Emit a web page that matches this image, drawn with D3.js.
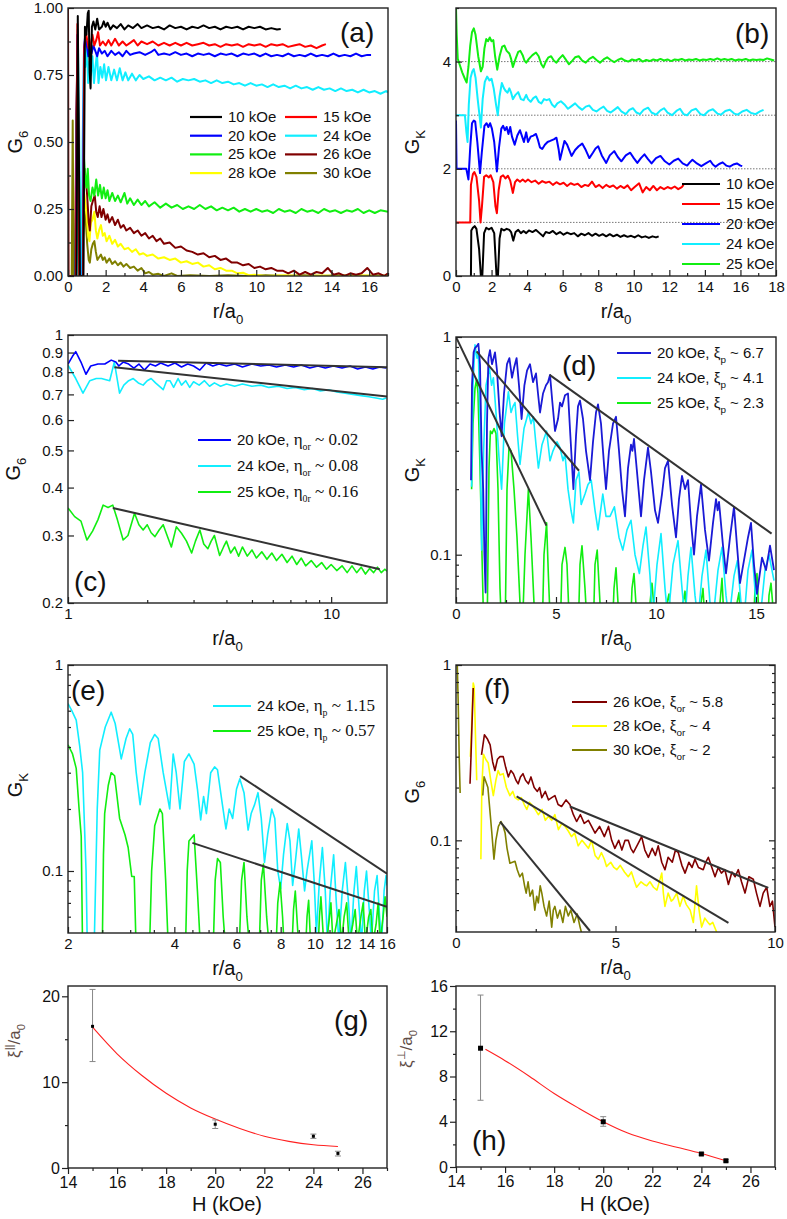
<!DOCTYPE html>
<html><head><meta charset="utf-8">
<script src="https://cdn.jsdelivr.net/npm/d3@7"></script>
<style>body{margin:0;background:#fff}</style>
</head><body>
<svg id="c" width="787" height="1219" xmlns="http://www.w3.org/2000/svg"></svg>
<script>
// ---------------- DATA ----------------
// Panel (a): G6 vs r/a0
const a10 = [[0.45,0],[0.52,0.97],[0.58,0.45],[0.63,0],[0.82,0],[0.9,0.93],[0.98,0.9],[1.05,0.98],[1.1,0.99],[1.15,0.76],[1.2,0.7],[1.27,0.93],[1.35,0.95],[1.45,0.92],[1.55,0.96],[1.65,0.92],[1.8,0.93],[1.9,0.95],[2.0,0.93],[2.1,0.945],[2.25,0.92],[2.4,0.935],[2.6,0.925],[2.8,0.94],[3.0,0.92],[3.2,0.935],[3.45,0.925],[3.7,0.94],[3.9,0.925],[4.2,0.935],[4.5,0.925],[4.8,0.93],[5.1,0.92],[5.4,0.935],[5.7,0.925],[6.0,0.93],[6.3,0.92],[6.6,0.93],[6.9,0.925],[7.2,0.935],[7.5,0.925],[7.8,0.93],[8.1,0.92],[8.4,0.93],[8.7,0.925],[9.0,0.93],[9.3,0.92],[9.6,0.93],[9.9,0.925],[10.2,0.93],[10.5,0.92],[10.8,0.925],[11.1,0.92],[11.3,0.922]];
const a15 = [[0.42,0],[0.5,0.94],[0.56,0.5],[0.6,0],[0.8,0],[0.86,0.85],[0.95,0.91],[1.02,0.88],[1.1,0.85],[1.2,0.86],[1.3,0.9],[1.4,0.86],[1.5,0.88],[1.6,0.91],[1.7,0.86],[1.85,0.875],[2.0,0.86],[2.15,0.88],[2.3,0.86],[2.5,0.885],[2.7,0.86],[2.9,0.875],[3.1,0.86],[3.3,0.87],[3.5,0.88],[3.7,0.86],[3.9,0.875],[4.2,0.865],[4.5,0.875],[4.8,0.86],[5.1,0.87],[5.4,0.86],[5.7,0.87],[6.0,0.86],[6.3,0.87],[6.6,0.86],[6.9,0.865],[7.2,0.87],[7.5,0.86],[7.8,0.865],[8.1,0.855],[8.4,0.865],[8.7,0.86],[9.0,0.865],[9.3,0.855],[9.6,0.865],[9.9,0.86],[10.2,0.865],[10.5,0.855],[10.8,0.865],[11.1,0.86],[11.4,0.865],[11.7,0.855],[12.0,0.86],[12.3,0.865],[12.6,0.855],[12.9,0.86],[13.2,0.85],[13.5,0.86],[13.7,0.865]];
const a20 = [[0.4,0],[0.45,0.5],[0.5,0.9],[0.56,0.4],[0.62,0],[0.78,0],[0.85,0.85],[0.92,0.9],[1.0,0.86],[1.08,0.82],[1.15,0.86],[1.25,0.83],[1.35,0.86],[1.45,0.84],[1.55,0.82],[1.65,0.85],[1.8,0.83],[1.95,0.84],[2.1,0.82],[2.3,0.84],[2.5,0.825],[2.7,0.835],[2.9,0.82],[3.1,0.84],[3.3,0.825],[3.5,0.83],[3.8,0.835],[4.1,0.825],[4.4,0.835],[4.6,0.845],[4.8,0.825],[5.1,0.83],[5.4,0.825],[5.7,0.835],[6.0,0.825],[6.3,0.83],[6.6,0.82],[6.9,0.83],[7.2,0.825],[7.5,0.83],[7.8,0.82],[8.1,0.83],[8.4,0.825],[8.7,0.83],[9.0,0.82],[9.3,0.83],[9.6,0.825],[9.9,0.83],[10.2,0.82],[10.5,0.83],[10.8,0.82],[11.1,0.825],[11.4,0.82],[11.7,0.83],[12.0,0.82],[12.3,0.825],[12.6,0.82],[12.9,0.83],[13.2,0.82],[13.5,0.825],[13.8,0.82],[14.1,0.83],[14.4,0.82],[14.7,0.825],[15.0,0.82],[15.3,0.83],[15.6,0.82],[15.9,0.825],[16.1,0.825]];
const a24 = [[0.45,0],[0.52,0.92],[0.58,0.6],[0.65,0.2],[0.72,0],[0.78,0.5],[0.85,0.85],[0.92,0.78],[1.0,0.86],[1.07,0.72],[1.15,0.8],[1.22,0.75],[1.3,0.82],[1.38,0.72],[1.46,0.78],[1.54,0.83],[1.62,0.72],[1.72,0.78],[1.82,0.74],[1.92,0.79],[2.02,0.73],[2.15,0.78],[2.3,0.73],[2.45,0.77],[2.6,0.73],[2.75,0.775],[2.9,0.73],[3.05,0.76],[3.2,0.73],[3.4,0.755],[3.6,0.73],[3.8,0.75],[4.0,0.735],[4.3,0.745],[4.6,0.73],[4.9,0.74],[5.2,0.73],[5.5,0.74],[5.8,0.725],[6.1,0.735],[6.4,0.73],[6.7,0.735],[7.0,0.725],[7.3,0.73],[7.6,0.72],[7.9,0.73],[8.2,0.72],[8.5,0.725],[8.8,0.715],[9.1,0.72],[9.4,0.71],[9.7,0.72],[10.0,0.71],[10.3,0.715],[10.6,0.705],[10.9,0.715],[11.2,0.705],[11.5,0.71],[11.8,0.7],[12.1,0.71],[12.4,0.7],[12.7,0.705],[13.0,0.695],[13.3,0.705],[13.6,0.695],[13.9,0.7],[14.2,0.69],[14.5,0.7],[14.8,0.69],[15.1,0.695],[15.4,0.685],[15.7,0.695],[16.0,0.685],[16.3,0.69],[16.6,0.68],[16.9,0.69],[17,0.685]];
const a25 = [[0.4,0],[0.47,0.6],[0.52,0.3],[0.58,0],[0.72,0],[0.78,0.3],[0.84,0.45],[0.9,0.38],[0.98,0.33],[1.05,0.4],[1.12,0.3],[1.2,0.28],[1.3,0.33],[1.4,0.3],[1.5,0.36],[1.6,0.3],[1.7,0.34],[1.8,0.29],[1.9,0.33],[2.0,0.29],[2.1,0.32],[2.2,0.28],[2.35,0.31],[2.5,0.28],[2.65,0.3],[2.8,0.275],[3.0,0.31],[3.15,0.27],[3.3,0.29],[3.5,0.265],[3.7,0.285],[3.9,0.265],[4.1,0.28],[4.3,0.26],[4.6,0.275],[4.9,0.255],[5.2,0.27],[5.5,0.255],[5.8,0.265],[6.1,0.25],[6.4,0.26],[6.7,0.25],[7.0,0.265],[7.3,0.25],[7.6,0.26],[7.9,0.245],[8.2,0.255],[8.5,0.245],[8.8,0.255],[9.1,0.24],[9.4,0.25],[9.7,0.24],[10.0,0.25],[10.3,0.24],[10.6,0.245],[10.9,0.235],[11.2,0.25],[11.5,0.24],[11.8,0.245],[12.1,0.235],[12.4,0.25],[12.7,0.24],[13.0,0.245],[13.3,0.235],[13.6,0.25],[13.9,0.24],[14.2,0.245],[14.5,0.235],[14.8,0.245],[15.1,0.24],[15.4,0.25],[15.7,0.235],[16.0,0.245],[16.3,0.235],[16.6,0.245],[17,0.24]];
const a26 = [[0,1],[0.03,0],[0.38,0],[0.44,0.6],[0.48,0.75],[0.54,0.4],[0.6,0],[0.72,0],[0.8,0.25],[0.88,0.4],[0.95,0.36],[1.02,0.3],[1.1,0.2],[1.16,0.17],[1.24,0.26],[1.32,0.28],[1.42,0.3],[1.5,0.24],[1.58,0.22],[1.68,0.26],[1.78,0.22],[1.88,0.25],[2.0,0.21],[2.1,0.23],[2.2,0.2],[2.35,0.22],[2.5,0.19],[2.65,0.21],[2.8,0.18],[2.95,0.19],[3.1,0.17],[3.3,0.18],[3.5,0.16],[3.7,0.17],[3.9,0.15],[4.1,0.16],[4.3,0.14],[4.5,0.15],[4.7,0.13],[4.9,0.14],[5.1,0.12],[5.4,0.125],[5.7,0.105],[6.0,0.11],[6.3,0.095],[6.6,0.09],[6.9,0.08],[7.2,0.085],[7.5,0.07],[7.8,0.075],[8.1,0.06],[8.4,0.065],[8.7,0.05],[9.0,0.05],[9.3,0.04],[9.6,0.045],[9.9,0.03],[10.2,0.035],[10.5,0.025],[10.8,0.03],[11.1,0.02],[11.4,0.02],[11.7,0.01],[12.0,0.02],[12.3,0.005],[12.6,0.015],[12.9,0.005],[13.2,0.015],[13.5,0.01],[13.8,0.03],[14.1,0.005],[14.4,0.01],[14.7,0.0],[15.0,0.01],[15.3,0.005],[15.6,0.01],[15.9,0.03],[16.2,0.005],[16.5,0.01],[16.8,0.0],[17,0.01]];
const a28 = [[0.38,0],[0.45,0.55],[0.5,0.8],[0.56,0.4],[0.62,0],[0.74,0],[0.8,0.2],[0.86,0.31],[0.93,0.27],[1.0,0.22],[1.07,0.15],[1.14,0.13],[1.22,0.2],[1.3,0.21],[1.4,0.24],[1.48,0.17],[1.56,0.14],[1.65,0.17],[1.75,0.19],[1.85,0.15],[1.95,0.16],[2.05,0.13],[2.2,0.15],[2.35,0.12],[2.5,0.135],[2.65,0.11],[2.8,0.12],[3.0,0.1],[3.2,0.105],[3.4,0.09],[3.6,0.1],[3.8,0.08],[4.0,0.085],[4.2,0.075],[4.5,0.08],[4.8,0.065],[5.1,0.07],[5.4,0.06],[5.7,0.065],[6.0,0.05],[6.3,0.055],[6.6,0.045],[6.9,0.05],[7.2,0.035],[7.5,0.04],[7.8,0.025],[8.1,0.03],[8.4,0.02],[8.7,0.02],[9.0,0.01],[9.3,0.012],[9.6,0.003],[9.9,0.005],[10.5,0],[11.5,0.003],[12.5,0],[13.5,0.002],[14.5,0],[15.5,0.003],[16.5,0],[17,0.002]];
const a30 = [[0.2,0],[0.25,0.58],[0.3,0],[0.42,0],[0.47,0.5],[0.52,0.2],[0.58,0],[0.74,0],[0.8,0.15],[0.88,0.24],[0.95,0.2],[1.02,0.12],[1.1,0.06],[1.16,0.05],[1.24,0.1],[1.32,0.12],[1.4,0.13],[1.48,0.09],[1.56,0.06],[1.65,0.07],[1.75,0.08],[1.85,0.06],[1.95,0.07],[2.05,0.05],[2.2,0.065],[2.35,0.045],[2.5,0.055],[2.65,0.04],[2.8,0.05],[2.95,0.035],[3.1,0.045],[3.3,0.03],[3.5,0.035],[3.7,0.02],[3.9,0.03],[4.1,0.01],[4.3,0.015],[4.5,0.005],[4.8,0.008],[5.1,0],[5.5,0.01],[5.8,0],[6.5,0.003],[7.5,0],[8.5,0.003],[9.5,0],[10.5,0.003],[11.5,0],[12.5,0.003],[13.5,0],[14.5,0.003],[15.5,0],[16.5,0.002],[17,0]];

// Panel (b): G_K (raw values, vertically shifted by bOffsets)
const bOffsets = [0, 1, 2, 3, 4];
const b10 = [[0.84,0],[0.86,0.85],[0.95,0.9],[1.05,0.93],[1.15,0.88],[1.3,0.5],[1.4,0],[1.48,0],[1.58,0.8],[1.7,0.9],[1.85,0.87],[2.0,0.9],[2.15,0.8],[2.28,0],[2.36,0],[2.45,0.7],[2.55,0.88],[2.7,0.85],[2.85,0.88],[3.0,0.86],[3.1,0.82],[3.22,0.66],[3.35,0.82],[3.5,0.86],[3.65,0.8],[3.8,0.84],[3.95,0.8],[4.1,0.85],[4.3,0.82],[4.5,0.86],[4.7,0.8],[4.9,0.74],[5.05,0.82],[5.25,0.8],[5.45,0.84],[5.65,0.78],[5.85,0.82],[6.05,0.77],[6.25,0.81],[6.45,0.78],[6.65,0.8],[6.85,0.74],[7.05,0.79],[7.25,0.76],[7.45,0.8],[7.65,0.75],[7.85,0.79],[8.05,0.75],[8.25,0.78],[8.45,0.74],[8.65,0.78],[8.85,0.74],[9.05,0.77],[9.25,0.73],[9.45,0.76],[9.65,0.73],[9.85,0.75],[10.05,0.72],[10.25,0.76],[10.45,0.72],[10.65,0.74],[10.85,0.71],[11.05,0.74],[11.25,0.72],[11.4,0.74]];
const b15 = [[0,0],[0.8,0],[0.84,0.7],[0.95,0.9],[1.03,0.94],[1.15,0.85],[1.3,0.4],[1.38,0],[1.46,0.3],[1.58,0.85],[1.7,0.88],[1.85,0.84],[1.95,0.88],[2.1,0.75],[2.22,0.3],[2.3,0.17],[2.4,0.6],[2.52,0.85],[2.65,0.88],[2.78,0.82],[2.92,0.87],[3.05,0.78],[3.2,0.55],[3.32,0.75],[3.45,0.8],[3.6,0.76],[3.75,0.8],[3.9,0.76],[4.05,0.8],[4.25,0.75],[4.45,0.78],[4.65,0.72],[4.85,0.77],[5.05,0.74],[5.25,0.76],[5.45,0.7],[5.65,0.75],[5.85,0.71],[6.05,0.74],[6.25,0.68],[6.45,0.73],[6.65,0.7],[6.85,0.72],[7.05,0.66],[7.25,0.7],[7.45,0.68],[7.65,0.76],[7.85,0.66],[8.05,0.7],[8.25,0.64],[8.45,0.7],[8.65,0.66],[8.85,0.69],[9.05,0.63],[9.25,0.68],[9.45,0.64],[9.65,0.69],[9.85,0.6],[10.05,0.66],[10.3,0.73],[10.5,0.56],[10.7,0.66],[10.9,0.6],[11.1,0.68],[11.3,0.6],[11.5,0.66],[11.7,0.62],[11.9,0.66],[12.1,0.63],[12.3,0.67],[12.5,0.62],[12.7,0.66],[12.8,0.7]];
const b20 = [[0,0.9],[0.03,0],[0.58,0],[0.7,-0.2],[0.8,0.4],[0.9,0.85],[1.0,0.9],[1.08,0.88],[1.2,0.5],[1.35,-0.08],[1.45,0.3],[1.6,0.8],[1.72,0.85],[1.82,0.78],[1.92,0.85],[2.02,0.75],[2.15,0.5],[2.3,-0.05],[2.42,0.4],[2.55,0.75],[2.65,0.8],[2.75,0.72],[2.85,0.78],[2.95,0.65],[3.05,0.78],[3.15,0.6],[3.3,0.45],[3.45,0.62],[3.6,0.72],[3.72,0.6],[3.82,0.5],[3.95,0.68],[4.05,0.5],[4.2,0.6],[4.35,0.62],[4.5,0.65],[4.6,0.55],[4.72,0.4],[4.85,0.37],[5.0,0.45],[5.15,0.5],[5.3,0.52],[5.5,0.55],[5.65,0.58],[5.78,0.35],[5.85,0.17],[5.98,0.35],[6.1,0.52],[6.25,0.45],[6.5,0.24],[6.7,0.35],[6.9,0.42],[7.1,0.47],[7.3,0.35],[7.5,0.2],[7.7,0.3],[7.85,0.38],[8.0,0.42],[8.2,0.25],[8.45,0.11],[8.65,0.25],[8.9,0.33],[9.1,0.22],[9.3,0.14],[9.55,0.25],[9.8,0.3],[10.0,0.2],[10.2,0.11],[10.4,0.2],[10.6,0.27],[10.8,0.18],[11.0,0.1],[11.25,0.2],[11.5,0.24],[11.75,0.14],[12.0,0.08],[12.25,0.15],[12.5,0.19],[12.75,0.1],[13.0,0.06],[13.15,0.12],[13.3,0.17],[13.55,0.1],[13.8,0.05],[14.05,0.1],[14.3,0.15],[14.45,0.08],[14.6,0.04],[14.8,0.09],[15.0,0.12],[15.2,0.06],[15.4,0.04],[15.6,0.08],[15.8,0.1],[16.0,0.06],[16.1,0.05]];
const b24 = [[0,0],[0.5,0],[0.58,-0.3],[0.65,-0.5],[0.72,0.2],[0.82,0.7],[0.92,0.82],[1.0,0.86],[1.1,0.7],[1.22,0.3],[1.32,0],[1.4,-0.23],[1.5,0.3],[1.62,0.62],[1.75,0.72],[1.88,0.65],[2.0,0.68],[2.12,0.5],[2.25,0.2],[2.35,0.0],[2.45,0.35],[2.58,0.6],[2.7,0.5],[2.8,0.45],[2.9,0.42],[3.0,0.5],[3.1,0.42],[3.2,0.3],[3.35,0.38],[3.5,0.43],[3.65,0.3],[3.8,0.28],[3.95,0.38],[4.05,0.3],[4.2,0.25],[4.35,0.32],[4.5,0.35],[4.65,0.25],[4.8,0.22],[4.95,0.3],[5.1,0.28],[5.25,0.3],[5.4,0.2],[5.55,0.15],[5.7,0.22],[5.9,0.26],[6.1,0.2],[6.3,0.12],[6.5,0.17],[6.7,0.22],[6.9,0.15],[7.1,0.1],[7.3,0.16],[7.5,0.18],[7.7,0.1],[7.9,0.07],[8.1,0.12],[8.3,0.16],[8.5,0.08],[8.7,0.05],[8.9,0.1],[9.1,0.15],[9.3,0.07],[9.55,0.02],[9.75,0.1],[9.95,0.13],[10.15,0.05],[10.35,0.02],[10.55,0.1],[10.8,0.14],[11.0,0.05],[11.25,0.01],[11.5,0.09],[11.7,0.13],[11.9,0.05],[12.15,0.0],[12.4,0.08],[12.6,0.12],[12.8,0.02],[13.0,0.0],[13.25,0.09],[13.5,0.12],[13.75,0.02],[13.95,0.0],[14.2,0.08],[14.45,0.11],[14.7,0.03],[14.9,0.01],[15.15,0.08],[15.4,0.1],[15.65,0.03],[15.85,0.01],[16.1,0.07],[16.35,0.1],[16.6,0.04],[16.85,0.02],[17.1,0.07],[17.3,0.1]];
const b25 = [[0,1.0],[0.04,0.5],[0.1,0.05],[0.2,-0.05],[0.35,-0.2],[0.5,-0.32],[0.6,-0.39],[0.7,-0.1],[0.8,0.3],[0.9,0.55],[1.0,0.62],[1.1,0.5],[1.25,0.1],[1.4,-0.18],[1.5,-0.1],[1.6,0.25],[1.7,0.42],[1.8,0.38],[1.9,0.45],[2.0,0.38],[2.1,0.4],[2.2,0.1],[2.32,-0.15],[2.45,0.1],[2.6,0.28],[2.72,0.3],[2.85,0.2],[3.0,0.15],[3.1,0.05],[3.2,-0.1],[3.35,0.05],[3.5,0.18],[3.62,0.2],[3.75,0.12],[3.85,0.02],[3.95,-0.02],[4.1,0.05],[4.3,0.12],[4.5,0.17],[4.65,0.1],[4.8,-0.05],[4.92,-0.11],[5.05,0.0],[5.2,0.08],[5.35,0.1],[5.5,0.02],[5.65,-0.02],[5.8,0.05],[6.0,0.12],[6.15,0.05],[6.35,-0.05],[6.5,0.0],[6.7,0.08],[6.9,0.1],[7.1,0.02],[7.3,-0.02],[7.5,0.05],[7.7,0.09],[7.9,0.03],[8.1,-0.02],[8.3,0.04],[8.5,0.08],[8.7,0.03],[8.9,-0.01],[9.1,0.03],[9.3,0.06],[9.5,0.02],[9.7,0.0],[9.9,0.04],[10.1,0.02],[10.3,0.05],[10.5,0.0],[10.7,0.03],[10.9,0.01],[11.1,0.04],[11.3,0.02],[11.5,0.05],[11.7,0.02],[11.9,0.04],[12.1,0.01],[12.3,0.04],[12.5,0.03],[12.7,0.05],[12.9,0.02],[13.1,0.04],[13.3,0.03],[13.5,0.05],[13.7,0.02],[13.9,0.04],[14.1,0.03],[14.3,0.05],[14.5,0.03],[14.7,0.06],[14.9,0.03],[15.1,0.05],[15.3,0.03],[15.5,0.05],[15.7,0.02],[15.9,0.04],[16.1,0.03],[16.3,0.05],[16.5,0.02],[16.7,0.04],[16.9,0.03],[17.1,0.04],[17.3,0.03],[17.5,0.06],[17.7,0.04],[17.9,0.02]];

// Panel (c): G6 log-log
const c20 = [[1,0.84],[1.04,0.88],[1.07,0.905],[1.12,0.85],[1.17,0.79],[1.22,0.83],[1.3,0.84],[1.38,0.84],[1.46,0.86],[1.52,0.85],[1.56,0.83],[1.62,0.85],[1.7,0.84],[1.78,0.82],[1.86,0.84],[1.95,0.81],[2.05,0.84],[2.15,0.83],[2.25,0.845],[2.4,0.83],[2.55,0.845],[2.7,0.825],[2.85,0.84],[3.0,0.83],[3.17,0.81],[3.35,0.845],[3.55,0.83],[3.75,0.84],[4.0,0.83],[4.3,0.84],[4.6,0.825],[5.0,0.84],[5.4,0.83],[5.8,0.835],[6.2,0.825],[6.7,0.835],[7.2,0.825],[7.7,0.835],[8.3,0.82],[8.9,0.83],[9.5,0.82],[10.2,0.83],[11,0.82],[11.8,0.83],[12.6,0.815],[13.5,0.825],[14.4,0.815],[15.3,0.825],[16.2,0.82]];
const c24 = [[1,0.835],[1.07,0.77],[1.14,0.705],[1.21,0.76],[1.28,0.77],[1.34,0.77],[1.44,0.76],[1.5,0.85],[1.57,0.705],[1.63,0.74],[1.7,0.76],[1.77,0.77],[1.85,0.75],[1.93,0.74],[2.0,0.76],[2.07,0.77],[2.15,0.75],[2.25,0.73],[2.3,0.72],[2.37,0.76],[2.44,0.76],[2.52,0.73],[2.62,0.77],[2.7,0.74],[2.8,0.76],[2.9,0.73],[3.0,0.755],[3.15,0.74],[3.3,0.76],[3.45,0.735],[3.6,0.75],[3.8,0.735],[4.0,0.745],[4.3,0.735],[4.6,0.745],[5.0,0.735],[5.4,0.74],[5.8,0.73],[6.3,0.735],[6.8,0.725],[7.3,0.73],[7.9,0.72],[8.5,0.725],[9.1,0.715],[9.8,0.72],[10.5,0.71],[11.3,0.705],[12.1,0.7],[13,0.695],[13.9,0.69],[14.8,0.685],[15.7,0.68],[16.2,0.685]];
const c25 = [[1,0.354],[1.06,0.336],[1.12,0.327],[1.18,0.292],[1.24,0.308],[1.3,0.33],[1.36,0.36],[1.42,0.355],[1.48,0.36],[1.54,0.33],[1.62,0.292],[1.69,0.3],[1.79,0.343],[1.86,0.32],[1.93,0.31],[2.0,0.32],[2.07,0.305],[2.14,0.298],[2.22,0.31],[2.3,0.32],[2.38,0.3],[2.47,0.28],[2.58,0.316],[2.7,0.304],[2.82,0.29],[2.95,0.27],[3.05,0.29],[3.17,0.31],[3.28,0.285],[3.4,0.277],[3.5,0.29],[3.6,0.3],[3.77,0.266],[3.9,0.28],[4.0,0.29],[4.15,0.27],[4.3,0.28],[4.45,0.265],[4.6,0.28],[4.8,0.265],[5.0,0.275],[5.2,0.262],[5.45,0.272],[5.7,0.26],[5.95,0.27],[6.2,0.258],[6.5,0.268],[6.8,0.255],[7.1,0.265],[7.4,0.252],[7.7,0.262],[8.0,0.25],[8.4,0.258],[8.8,0.248],[9.2,0.255],[9.6,0.245],[10,0.252],[10.5,0.243],[11,0.25],[11.5,0.24],[12,0.25],[12.5,0.24],[13,0.248],[13.5,0.238],[14,0.246],[14.5,0.24],[15,0.248],[15.5,0.24],[16,0.245],[16.3,0.242]];
const cFits = [[[1.55,0.857],[16.3,0.824]],[[1.5,0.824],[16.3,0.691]],[[1.48,0.354],[15.3,0.245]]];

// Panel (d): G_K semi-log
const d20 = [[0.75,0.22],[0.8,0.6],[0.88,0.85],[0.95,0.89],[1.05,0.91],[1.12,0.93],[1.2,0.75],[1.28,0.3],[1.36,0.2],[1.42,0.1],[1.48,0.067],[1.55,0.4],[1.62,0.8],[1.7,0.87],[1.8,0.75],[1.88,0.8],[1.95,0.85],[2.05,0.7],[2.18,0.45],[2.28,0.35],[2.4,0.55],[2.55,0.75],[2.67,0.8],[2.8,0.65],[2.9,0.72],[3.03,0.8],[3.15,0.6],[3.28,0.42],[3.42,0.6],[3.55,0.7],[3.7,0.75],[3.85,0.62],[4.0,0.68],[4.1,0.55],[4.2,0.45],[4.35,0.55],[4.5,0.6],[4.6,0.62],[4.7,0.67],[4.82,0.5],[4.95,0.37],[5.1,0.42],[5.2,0.5],[5.3,0.48],[5.45,0.54],[5.6,0.55],[5.72,0.35],[5.87,0.2],[6.0,0.35],[6.1,0.48],[6.2,0.51],[6.35,0.42],[6.5,0.3],[6.7,0.22],[6.85,0.33],[7.0,0.45],[7.1,0.49],[7.25,0.4],[7.4,0.26],[7.5,0.2],[7.65,0.3],[7.85,0.4],[8.0,0.43],[8.15,0.3],[8.3,0.2],[8.45,0.15],[8.6,0.25],[8.75,0.32],[8.82,0.3],[8.9,0.34],[9.05,0.24],[9.25,0.15],[9.4,0.22],[9.6,0.31],[9.75,0.24],[9.95,0.16],[10.1,0.14],[10.3,0.19],[10.45,0.25],[10.6,0.27],[10.8,0.17],[11.0,0.12],[11.15,0.18],[11.3,0.23],[11.45,0.2],[11.6,0.22],[11.75,0.14],[11.9,0.1],[12.05,0.15],[12.25,0.21],[12.45,0.13],[12.65,0.094],[12.85,0.14],[13.0,0.18],[13.08,0.16],[13.15,0.175],[13.35,0.11],[13.5,0.082],[13.7,0.12],[13.9,0.166],[14.05,0.11],[14.2,0.074],[14.45,0.1],[14.6,0.12],[14.75,0.14],[14.9,0.09],[15.05,0.066],[15.3,0.097],[15.5,0.085],[15.7,0.11],[15.9,0.085]];
const d24 = [[0.78,0.205],[0.85,0.6],[0.95,0.92],[1.05,0.8],[1.12,0.84],[1.2,0.4],[1.28,0.105],[1.38,0.3],[1.5,0.6],[1.67,0.72],[1.78,0.6],[1.87,0.65],[2.0,0.45],[2.15,0.28],[2.28,0.2],[2.42,0.4],[2.62,0.56],[2.75,0.45],[2.85,0.48],[2.95,0.5],[3.08,0.35],[3.2,0.26],[3.4,0.38],[3.62,0.45],[3.75,0.4],[3.87,0.43],[4.0,0.32],[4.12,0.25],[4.3,0.32],[4.53,0.37],[4.7,0.27],[4.85,0.3],[5.05,0.33],[5.2,0.31],[5.35,0.27],[5.45,0.29],[5.6,0.2],[5.75,0.16],[5.87,0.14],[6.0,0.22],[6.15,0.24],[6.26,0.17],[6.45,0.19],[6.6,0.21],[6.76,0.22],[6.95,0.16],[7.1,0.13],[7.34,0.19],[7.5,0.15],[7.7,0.15],[7.92,0.166],[8.15,0.12],[8.34,0.105],[8.55,0.13],[8.75,0.144],[8.95,0.1],[9.17,0.082],[9.35,0.11],[9.5,0.134],[9.7,0.08],[9.83,0.05],[10.05,0.09],[10.25,0.125],[10.45,0.07],[10.6,0.05],[10.85,0.09],[11.1,0.116],[11.3,0.07],[11.45,0.05],[11.6,0.08],[11.75,0.108],[11.95,0.065],[12.1,0.05],[12.3,0.08],[12.5,0.105],[12.7,0.06],[12.85,0.05],[13.1,0.085],[13.3,0.108],[13.5,0.065],[13.65,0.05],[13.9,0.08],[14.07,0.094],[14.25,0.06],[14.4,0.05],[14.6,0.085],[14.8,0.105],[15.0,0.06],[15.2,0.05],[15.45,0.085],[15.65,0.1],[15.9,0.076]];
const d25 = [[0.78,0.2],[0.85,0.4],[0.95,0.58],[1.03,0.64],[1.1,0.55],[1.2,0.25],[1.3,0.1],[1.4,0.04],[1.55,0.04],[1.65,0.25],[1.72,0.37],[1.8,0.36],[1.9,0.38],[2.0,0.36],[2.1,0.2],[2.2,0.07],[2.3,0.04],[2.45,0.04],[2.55,0.2],[2.65,0.31],[2.75,0.3],[2.9,0.2],[3.05,0.12],[3.2,0.06],[3.3,0.04],[3.45,0.1],[3.62,0.2],[3.75,0.12],[3.9,0.06],[4.0,0.04],[4.3,0.04],[4.4,0.1],[4.53,0.14],[4.62,0.08],[4.75,0.04],[5.2,0.04],[5.3,0.09],[5.45,0.108],[5.55,0.09],[5.7,0.04],[6.1,0.04],[6.2,0.09],[6.3,0.11],[6.45,0.07],[6.6,0.04],[6.85,0.04],[6.95,0.09],[7.06,0.105],[7.2,0.06],[7.35,0.04],[7.8,0.04],[7.9,0.07],[8.0,0.087],[8.15,0.05],[8.3,0.04],[8.7,0.04],[8.8,0.07],[8.9,0.082],[9.05,0.05],[9.2,0.04],[9.6,0.04],[9.7,0.06],[9.8,0.074],[9.95,0.05],[10.1,0.04],[10.45,0.04],[10.55,0.06],[10.65,0.066],[10.8,0.04],[11.25,0.04],[11.35,0.06],[11.45,0.068],[11.6,0.04],[12.15,0.04],[12.25,0.06],[12.35,0.07],[12.5,0.04],[13.1,0.04],[13.2,0.06],[13.3,0.078],[13.45,0.04],[13.95,0.04],[14.05,0.06],[14.15,0.067],[14.3,0.04],[14.85,0.04],[14.95,0.07],[15.05,0.082],[15.2,0.04],[15.55,0.04],[15.65,0.065],[15.75,0.074],[15.9,0.05]];
const dFits = [[[0,1],[4.52,0.136]],[[1.03,0.859],[6.15,0.243]],[[4.68,0.67],[15.78,0.125]]];

// Panel (e): G_K log-log
const e24 = [[2,0.65],[2.05,0.6],[2.11,0.54],[2.16,0.4],[2.2,0.3],[2.25,0.1],[2.27,0.04],[2.37,0.04],[2.42,0.2],[2.46,0.386],[2.55,0.5],[2.65,0.59],[2.72,0.52],[2.83,0.35],[2.92,0.44],[2.99,0.49],[3.05,0.46],[3.12,0.3],[3.2,0.21],[3.3,0.3],[3.42,0.42],[3.52,0.46],[3.6,0.44],[3.72,0.3],[3.88,0.2],[3.97,0.37],[4.05,0.3],[4.15,0.2],[4.27,0.34],[4.4,0.37],[4.55,0.33],[4.65,0.25],[4.75,0.177],[4.84,0.23],[4.93,0.19],[5.07,0.3],[5.2,0.32],[5.3,0.31],[5.45,0.22],[5.6,0.16],[5.72,0.2],[5.85,0.18],[6.0,0.25],[6.13,0.28],[6.3,0.24],[6.47,0.158],[6.6,0.19],[6.75,0.21],[6.9,0.24],[7.05,0.18],[7.2,0.11],[7.35,0.15],[7.55,0.2],[7.7,0.18],[7.85,0.1],[8.0,0.082],[8.15,0.12],[8.35,0.17],[8.5,0.14],[8.65,0.085],[8.8,0.11],[9.0,0.16],[9.15,0.12],[9.35,0.08],[9.5,0.1],[9.8,0.14],[9.95,0.09],[10.1,0.05],[10.3,0.09],[10.5,0.13],[10.7,0.08],[10.85,0.045],[11.05,0.08],[11.3,0.12],[11.5,0.07],[11.7,0.045],[11.95,0.08],[12.2,0.11],[12.45,0.07],[12.65,0.045],[12.9,0.08],[13.1,0.105],[13.35,0.065],[13.55,0.045],[13.8,0.08],[14.0,0.1],[14.25,0.065],[14.45,0.045],[14.75,0.08],[15.0,0.095],[15.25,0.06],[15.45,0.045],[15.7,0.08],[15.9,0.095],[16,0.085]];
const e25 = [[2,0.41],[2.06,0.37],[2.11,0.315],[2.15,0.2],[2.18,0.147],[2.2,0.04],[2.5,0.04],[2.52,0.12],[2.54,0.19],[2.6,0.26],[2.65,0.3],[2.71,0.29],[2.8,0.18],[2.9,0.15],[2.96,0.13],[3.03,0.094],[3.08,0.094],[3.12,0.04],[3.4,0.04],[3.45,0.1],[3.52,0.166],[3.64,0.2],[3.7,0.19],[3.78,0.09],[3.85,0.04],[4.3,0.04],[4.35,0.1],[4.4,0.14],[4.55,0.15],[4.65,0.08],[4.75,0.04],[5.15,0.04],[5.22,0.09],[5.3,0.115],[5.4,0.11],[5.5,0.06],[5.6,0.04],[6.1,0.04],[6.2,0.09],[6.3,0.11],[6.42,0.06],[6.55,0.04],[6.95,0.04],[7.05,0.09],[7.15,0.108],[7.3,0.06],[7.45,0.04],[7.75,0.04],[7.85,0.07],[7.97,0.088],[8.1,0.06],[8.2,0.04],[8.6,0.04],[8.7,0.065],[8.8,0.08],[8.95,0.05],[9.05,0.04],[9.4,0.04],[9.5,0.06],[9.6,0.072],[9.75,0.04],[10.2,0.04],[10.3,0.06],[10.4,0.075],[10.55,0.05],[10.7,0.04],[11.0,0.06],[11.1,0.07],[11.25,0.045],[11.5,0.055],[11.7,0.065],[11.9,0.045],[12.1,0.06],[12.3,0.07],[12.5,0.045],[12.8,0.055],[13,0.065],[13.2,0.045],[13.5,0.06],[13.7,0.07],[13.9,0.045],[14.2,0.06],[14.4,0.065],[14.6,0.045],[14.9,0.055],[15.1,0.07],[15.3,0.045],[15.6,0.06],[15.8,0.075],[16,0.06]];
const eFits = [[[6.14,0.289],[16,0.097]],[[4.5,0.137],[16,0.067]]];

// Panel (f): G6 semi-log (null = gap)
const f26 = [[0.44,0.21],[0.47,0.3],[0.5,0.45],[0.54,0.74],[0.6,null],[0.8,0.307],[0.89,0.4],[0.98,0.38],[1.07,0.35],[1.15,0.28],[1.22,0.25],[1.3,0.29],[1.38,0.3],[1.48,0.3],[1.56,0.26],[1.64,0.23],[1.72,0.25],[1.8,0.24],[1.88,0.22],[1.95,0.21],[2.02,0.23],[2.1,0.24],[2.18,0.22],[2.27,0.21],[2.35,0.23],[2.45,0.2],[2.55,0.19],[2.62,0.2],[2.69,0.175],[2.8,0.19],[2.9,0.17],[3.0,0.175],[3.1,0.18],[3.2,0.16],[3.31,0.156],[3.45,0.17],[3.57,0.16],[3.68,0.14],[3.78,0.128],[3.9,0.14],[4.02,0.125],[4.15,0.13],[4.25,0.12],[4.36,0.11],[4.5,0.12],[4.65,0.105],[4.78,0.12],[4.88,0.1],[4.98,0.09],[5.1,0.1],[5.2,0.088],[5.3,0.1],[5.4,0.1],[5.48,0.09],[5.56,0.085],[5.7,0.095],[5.82,0.105],[5.92,0.088],[6.03,0.08],[6.15,0.09],[6.25,0.082],[6.34,0.093],[6.45,0.075],[6.55,0.068],[6.65,0.08],[6.78,0.075],[6.88,0.088],[6.97,0.085],[7.08,0.072],[7.18,0.065],[7.3,0.075],[7.4,0.07],[7.49,0.078],[7.6,0.07],[7.75,0.068],[7.83,0.075],[7.91,0.08],[8.02,0.07],[8.12,0.062],[8.22,0.07],[8.32,0.065],[8.43,0.068],[8.54,0.056],[8.65,0.066],[8.75,0.062],[8.85,0.068],[8.95,0.058],[9.06,0.05],[9.18,0.062],[9.32,0.06],[9.42,0.05],[9.53,0.042],[9.63,0.05],[9.74,0.054],[9.84,0.042],[9.92,0.045],[10,0.032]];
const f28 = [[0.45,0.3],[0.49,0.45],[0.52,0.65],[0.54,0.79],[0.57,0.75],[0.61,0.4],[0.65,0.22],[0.7,null],[0.78,0.078],[0.81,0.2],[0.86,0.31],[0.93,0.29],[1.01,0.276],[1.09,0.22],[1.17,0.18],[1.25,0.22],[1.32,0.25],[1.38,0.236],[1.48,0.24],[1.58,0.2],[1.69,0.18],[1.78,0.19],[1.85,0.175],[1.95,0.17],[2.05,0.175],[2.14,0.16],[2.22,0.15],[2.3,0.165],[2.37,0.16],[2.48,0.15],[2.58,0.14],[2.7,0.15],[2.8,0.13],[2.9,0.137],[3.0,0.13],[3.1,0.14],[3.21,0.115],[3.32,0.125],[3.42,0.12],[3.52,0.113],[3.62,0.105],[3.72,0.11],[3.83,0.093],[3.95,0.1],[4.05,0.095],[4.15,0.09],[4.25,0.1],[4.36,0.082],[4.46,0.078],[4.56,0.085],[4.65,0.078],[4.72,0.071],[4.85,0.075],[4.95,0.07],[5.04,0.068],[5.15,0.072],[5.28,0.066],[5.4,0.062],[5.5,0.066],[5.6,0.058],[5.66,0.054],[5.8,0.058],[5.9,0.056],[5.98,0.055],[6.08,0.058],[6.19,0.054],[6.3,0.052],[6.45,0.065],[6.5,0.05],[6.55,0.042],[6.65,0.05],[6.75,0.045],[6.81,0.046],[6.92,0.05],[7.02,0.042],[7.12,0.048],[7.22,0.043],[7.34,0.04],[7.44,0.034],[7.54,0.055],[7.62,0.04],[7.7,0.032],[7.8,0.036],[7.9,0.034],[7.96,0.033],[8.05,0.034],[8.17,0.03]];
const f30 = [[0.04,1.0],[0.07,0.6],[0.1,0.3],[0.13,0.186],[0.2,null],[0.84,0.18],[0.88,0.23],[0.92,0.22],[1.0,0.2],[1.06,0.15],[1.12,0.112],[1.19,0.078],[1.25,0.1],[1.33,0.12],[1.41,0.128],[1.48,0.12],[1.54,0.11],[1.6,0.09],[1.69,0.074],[1.77,0.075],[1.85,0.076],[1.92,0.068],[2.0,0.062],[2.08,0.065],[2.15,0.055],[2.2,0.05],[2.26,0.058],[2.32,0.048],[2.4,0.052],[2.47,0.04],[2.53,0.048],[2.58,0.044],[2.64,0.055],[2.69,0.05],[2.76,0.042],[2.84,0.037],[2.92,0.045],[3.0,0.032],[3.05,0.04],[3.1,0.042],[3.18,0.036],[3.26,0.04],[3.35,0.034],[3.43,0.042],[3.52,0.037],[3.6,0.04],[3.7,0.034],[3.8,0.038],[3.89,0.032],[3.95,0.029]];
const fFits = [[[3.57,0.156],[9.79,0.0536]],[[1.9,0.178],[8.54,0.0338]],[[1.38,0.128],[4.2,0.0304]]];

// Panels (g), (h): correlation lengths vs H
const H = [15, 20, 24, 25];
const gXi = [16.5, 5.1, 3.7, 1.7];
const gLo = [12.4, 4.6, 3.45, 1.4];
const gHi = [20.8, 5.6, 3.95, 1.95];
const gFitH = [15, 16, 17, 18, 19, 20, 21, 22, 23, 24, 25];
const gFitV = [16.4, 13.3, 10.8, 8.7, 7.0, 5.7, 4.6, 3.7, 3.1, 2.7, 2.5];
const hXi = [10.5, 4.0, 1.15, 0.55];
const hLo = [5.9, 3.6, 1.05, 0.45];
const hHi = [15.2, 4.45, 1.25, 0.65];
const hFitH = [15.2, 16, 17, 18, 19, 20, 21, 22, 23, 24, 25];
const hFitV = [10.4, 9.4, 8.0, 6.5, 5.2, 4.0, 3.0, 2.3, 1.75, 1.2, 0.55];

const legA = ['10 kOe','15 kOe','20 kOe','24 kOe','25 kOe','26 kOe','28 kOe','30 kOe'];
const legB = ['10 kOe','15 kOe','20 kOe','24 kOe','25 kOe'];
const legC = [['20 kOe, ','0.02'],['24 kOe, ','0.08'],['25 kOe, ','0.16']];
const legD = [['20 kOe, ','6.7'],['24 kOe, ','4.1'],['25 kOe, ','2.3']];
const legE = [['24 kOe, ','1.15'],['25 kOe, ','0.57']];
const legF = [['26 kOe, ','5.8'],['28 kOe, ','4'],['30 kOe, ','2']];

// ---------------- DRAWING ----------------
const SANS = '"Liberation Sans", Arial, sans-serif';
const SERIF = '"Liberation Serif", "Times New Roman", serif';
const COL = {k:'#000000', r:'#ff0000', b:'#0000ff', c:'#11eeff', g:'#11ee11', dr:'#800000', y:'#ffff00', o:'#808000', fit:'#333333'};
const svg = d3.select('#c');
svg.append('rect').attr('width',787).attr('height',1219).attr('fill','#fff');
const defs = svg.append('defs');

function rich(sel, parts, fs) {
  let shift = 0;
  parts.forEach(p => {
    const target = p.s === 'sub' ? fs*0.32 : (p.s === 'sup' ? -fs*0.42 : 0);
    const ts = sel.append('tspan').text(p.t).attr('dy', target - shift)
      .attr('font-size', p.s ? fs*0.66 : (p.fs || fs));
    if (p.f) ts.attr('font-family', p.f);
    shift = target;
  });
}

function panel(o) {
  const x = (o.xlog ? d3.scaleLog() : d3.scaleLinear()).domain(o.xd).range([o.L, o.R]);
  const y = (o.ylog ? d3.scaleLog() : d3.scaleLinear()).domain(o.yd).range([o.B, o.T]);
  const cid = 'clip_' + o.id;
  defs.append('clipPath').attr('id', cid).append('rect')
    .attr('x', o.L).attr('y', o.T).attr('width', o.R - o.L).attr('height', o.B - o.T);
  const root = svg.append('g');
  const under = root.append('g').attr('clip-path', `url(#${cid})`);
  const plot = root.append('g').attr('clip-path', `url(#${cid})`);
  const ax = root.append('g');
  const s = o.out ? 1 : -1;
  const fs = o.fs || 15;
  const style = g => {
    g.select('.domain').remove();
    g.selectAll('line').attr('stroke', '#222').attr('stroke-width', 1.2);
    g.selectAll('text').attr('font-family', SANS).attr('font-size', fs).attr('fill', '#111');
  };
  const fmtX = o.xf || (d => d), fmtY = o.yf || (d => d);
  ax.append('g').attr('transform', `translate(0,${o.B})`)
    .call(d3.axisBottom(x).tickValues(o.xt).tickFormat(fmtX).tickSize(6*s).tickPadding(o.out ? 3 : 5)).call(style);
  if (o.xm) ax.append('g').attr('transform', `translate(0,${o.B})`)
    .call(d3.axisBottom(x).tickValues(o.xm).tickFormat(() => '').tickSize(3*s)).call(style);
  ax.append('g').attr('transform', `translate(${o.L},0)`)
    .call(d3.axisLeft(y).tickValues(o.yt).tickFormat(fmtY).tickSize(6*s).tickPadding(o.out ? 2 : 5)).call(style);
  if (o.ym) ax.append('g').attr('transform', `translate(${o.L},0)`)
    .call(d3.axisLeft(y).tickValues(o.ym).tickFormat(() => '').tickSize(3*s)).call(style);
  if (o.mirror) {
    ax.append('g').attr('transform', `translate(${o.R},0)`)
      .call(d3.axisRight(y).tickValues(o.yt).tickFormat(() => '').tickSize(-6)).call(style);
    if (o.ym) ax.append('g').attr('transform', `translate(${o.R},0)`)
      .call(d3.axisRight(y).tickValues(o.ym).tickFormat(() => '').tickSize(-3)).call(style);
  }
  root.append('rect').attr('x', o.L).attr('y', o.T).attr('width', o.R - o.L).attr('height', o.B - o.T)
    .attr('fill', 'none').attr('stroke', '#222').attr('stroke-width', 1.4);
  if (o.xtitle) {
    const t = root.append('text').attr('x', (o.L + o.R) / 2).attr('y', o.B + 42)
      .attr('text-anchor', 'middle').attr('font-family', SANS).attr('font-size', 20).attr('fill', '#111');
    rich(t, o.xtitle, 20);
  }
  if (o.ytitle) {
    const yc = o.ytY || (o.T + o.B) / 2;
    const t = root.append('text').attr('transform', `translate(${o.ytX},${yc}) rotate(-90)`)
      .attr('text-anchor', 'middle').attr('font-family', SANS).attr('font-size', o.ytFs || 20)
      .attr('fill', o.ytCol || '#111');
    rich(t, o.ytitle, o.ytFs || 20);
  }
  if (o.label) {
    root.append('text').attr('x', o.label[0]).attr('y', o.label[1]).attr('font-family', SANS)
      .attr('font-size', 28).attr('fill', '#111').text(o.label[2]);
  }
  return {x, y, plot, under, root};
}

function curve(P, data, color, w, off) {
  off = off || 0;
  P.plot.append('path').datum(data).attr('fill', 'none').attr('stroke', color)
    .attr('stroke-width', w).attr('stroke-linejoin', 'round')
    .attr('d', d3.line().defined(d => d[1] !== null).x(d => P.x(d[0])).y(d => P.y(d[1] + off)));
}
function fits(P, arr) {
  arr.forEach(f => curve(P, f, COL.fit, 2));
}
function legRow(P, x1, x2, y, color, w, parts, fs) {
  P.root.append('line').attr('x1', x1).attr('x2', x2).attr('y1', y).attr('y2', y)
    .attr('stroke', color).attr('stroke-width', w);
  const t = P.root.append('text').attr('x', x2 + 6).attr('y', y + 5).attr('font-family', SANS)
    .attr('font-size', fs).attr('fill', '#111');
  rich(t, parts, fs);
}

const rA = [{t:'r/a'},{t:'0',s:'sub'}];
const G6 = [{t:'G'},{t:'6',s:'sub'}];
const GK = [{t:'G'},{t:'K',s:'sub'}];

// (a)
const PA = panel({id:'a', L:68, R:388, T:8, B:276, xd:[0,17], yd:[0,1],
  xt:[0,2,4,6,8,10,12,14,16], xm:[1,3,5,7,9,11,13,15,17],
  yt:[0,0.25,0.5,0.75,1], ym:[0.125,0.375,0.625,0.875], yf:d3.format('.2f'),
  xtitle:rA, ytitle:G6, ytX:22, label:[340,42,'(a)']});
[[a30,COL.o],[a28,COL.y],[a26,COL.dr],[a25,COL.g],[a24,COL.c],[a20,COL.b],[a15,COL.r],[a10,COL.k]]
  .forEach(([d,c]) => curve(PA, d, c, 2));
const colA = [COL.k,COL.r,COL.b,COL.c,COL.g,COL.dr,COL.y,COL.o];
legA.forEach((n,i) => {
  const col = i % 2, row = Math.floor(i / 2);
  const x1 = col ? 285 : 190;
  legRow(PA, x1, x1 + 32, 117 + row * 18.7, colA[i], 2.2, [{t:n}], 15);
});

// (b)
const PB = panel({id:'b', L:456, R:776, T:8, B:276, xd:[0,18], yd:[0,5],
  xt:[0,2,4,6,8,10,12,14,16,18], xm:[1,3,5,7,9,11,13,15,17],
  yt:[0,2,4], ym:[1,3,5], xtitle:rA, ytitle:GK, ytX:419, label:[735,43,'(b)']});
[1,2,3,4].forEach(v => PB.under.append('line').attr('x1', PB.x(0)).attr('x2', PB.x(18))
  .attr('y1', PB.y(v)).attr('y2', PB.y(v)).attr('stroke', '#777').attr('stroke-width', 1)
  .attr('stroke-dasharray', '1.5,1.5'));
const colB = [COL.k,COL.r,COL.b,COL.c,COL.g];
[b10,b15,b20,b24,b25].forEach((d,i) => curve(PB, d, colB[i], 2, bOffsets[i]));
legB.forEach((n,i) => legRow(PB, 682, 720, 184 + i * 20, colB[i], 2.2, [{t:n}], 15));

// (c)
const PC = panel({id:'c', L:68, R:387, T:335, B:603, xlog:true, ylog:true, xd:[1,16.3], yd:[0.2,1],
  xt:[1,10], xm:[2,3,4,5,6,7,8,9], yt:[0.2,0.3,0.4,0.5,0.6,0.7,0.8,0.9,1],
  xtitle:rA, ytitle:G6, ytX:20, label:[74,591,'(c)']});
curve(PC, c25, COL.g, 1.6); curve(PC, c24, COL.c, 1.6); curve(PC, c20, COL.b, 1.6);
fits(PC, cFits);
const colC = [COL.b, COL.c, COL.g];
legC.forEach((p,i) => legRow(PC, 198, 231, 440 + i * 26, colC[i], 2,
  [{t:p[0]},{t:'η',f:SERIF,fs:17},{t:i===2?'0r':'or',s:'sub',f:SERIF},{t:' ~ '+p[1],f:SERIF,fs:17}], 15));

// (d)
const PD = panel({id:'d', L:456, R:776, T:337, B:603, ylog:true, xd:[0,16], yd:[0.06,1],
  xt:[0,5,10,15], xm:[2.5,7.5,12.5], yt:[0.1,1], ym:[0.07,0.08,0.09,0.2,0.3,0.4,0.5,0.6,0.7,0.8,0.9],
  xtitle:rA, ytitle:GK, ytX:419, label:[562,375,'(d)']});
curve(PD, d25, COL.g, 1.6); curve(PD, d24, COL.c, 1.6); curve(PD, d20, '#1a1ad6', 1.8);
fits(PD, dFits);
const colD = ['#1a1ad6', COL.c, COL.g];
legD.forEach((p,i) => legRow(PD, 617, 651, 353 + i * 25, colD[i], 2,
  [{t:p[0]},{t:'ξ'},{t:'p',s:'sub'},{t:' ~ '+p[1]}], 15));

// (e)
const PE = panel({id:'e', L:68, R:387, T:665, B:933, xlog:true, ylog:true, xd:[2,16], yd:[0.05,1],
  xt:[2,4,6,8,10,12,14,16], xm:[2.5,3,3.5,4.5,5,5.5,6.5,7,7.5,9,11,13,15],
  yt:[0.1,1], ym:[0.06,0.07,0.08,0.09,0.2,0.3,0.4,0.5,0.6,0.7,0.8,0.9],
  xtitle:rA, ytitle:GK, ytX:22, ytY:785, label:[71,700,'(e)']});
curve(PE, e24, COL.c, 1.6); curve(PE, e25, COL.g, 1.6);
fits(PE, eFits);
const colE = [COL.c, COL.g];
legE.forEach((p,i) => legRow(PE, 213, 251, 706 + i * 25, colE[i], 2,
  [{t:p[0]},{t:'η',f:SERIF,fs:17},{t:'p',s:'sub',f:SERIF},{t:' ~ '+p[1],f:SERIF,fs:17}], 15));

// (f)
const PF = panel({id:'f', L:456, R:775, T:665, B:932, ylog:true, xd:[0,10], yd:[0.03,1],
  xt:[0,5,10], xm:[2.5,7.5], yt:[0.1,1], ym:[0.04,0.05,0.06,0.07,0.08,0.09,0.2,0.3,0.4,0.5,0.6,0.7,0.8,0.9],
  mirror:true, xtitle:rA, ytitle:G6, ytX:419, ytY:792, label:[484,698,'(f)']});
curve(PF, f28, COL.y, 1.6); curve(PF, f26, COL.dr, 1.6); curve(PF, f30, COL.o, 1.6);
fits(PF, fFits);
const colF = [COL.dr, COL.y, COL.o];
legF.forEach((p,i) => legRow(PF, 572, 607, 702 + i * 24, colF[i], 2,
  [{t:p[0]},{t:'ξ'},{t:'or',s:'sub'},{t:' ~ '+p[1]}], 15));

// (g), (h)
function xiPanel(o, xi, lo, hi, fitH, fitV, sq) {
  const P = panel(o);
  P.plot.append('path').datum(fitH.map((h,i) => [h, fitV[i]])).attr('fill','none')
    .attr('stroke', '#ff2020').attr('stroke-width', 1.1)
    .attr('d', d3.line().curve(d3.curveMonotoneX).x(d => P.x(d[0])).y(d => P.y(d[1])));
  H.forEach((h,i) => {
    const cx = P.x(h);
    P.root.append('line').attr('x1', cx).attr('x2', cx).attr('y1', P.y(lo[i])).attr('y2', P.y(hi[i]))
      .attr('stroke', '#888').attr('stroke-width', 1);
    [lo[i], hi[i]].forEach(v => P.root.append('line').attr('x1', cx - 3).attr('x2', cx + 3)
      .attr('y1', P.y(v)).attr('y2', P.y(v)).attr('stroke', '#888').attr('stroke-width', 1));
    P.root.append('rect').attr('x', cx - sq/2).attr('y', P.y(xi[i]) - sq/2).attr('width', sq).attr('height', sq)
      .attr('fill', '#000');
  });
  return P;
}
xiPanel({id:'g', L:68, R:387, T:986, B:1168, xd:[14,27], yd:[0,21.2], out:true, fs:16,
  xt:[14,16,18,20,22,24,26], xm:[15,17,19,21,23,25,27], yt:[0,10,20], ym:[5,15],
  ytitle:[{t:'ξ'},{t:'||',s:'sup'},{t:'/a'},{t:'0',s:'sub'}], ytX:20, ytY:1041, ytFs:17, ytCol:'#5e4c46',
  label:[334,1030,'(g)']}, gXi, gLo, gHi, gFitH, gFitV, 3);
svg.append('text').attr('x', 227).attr('y', 1211).attr('text-anchor','middle')
  .attr('font-family', SANS).attr('font-size', 20).attr('fill', '#111').text('H (kOe)');
xiPanel({id:'h', L:456, R:775, T:986, B:1167, xd:[14,27], yd:[0,16], out:true, fs:16,
  xt:[14,16,18,20,22,24,26], xm:[15,17,19,21,23,25,27], yt:[0,4,8,12,16], ym:[2,6,10,14],
  ytitle:[{t:'ξ'},{t:'⊥',s:'sup'},{t:'/a'},{t:'0',s:'sub'}], ytX:412, ytY:1049, ytFs:17, ytCol:'#5e4c46',
  label:[472,1150,'(h)']}, hXi, hLo, hHi, hFitH, hFitV, 5);
svg.append('text').attr('x', 615).attr('y', 1211).attr('text-anchor','middle')
  .attr('font-family', SANS).attr('font-size', 20).attr('fill', '#111').text('H (kOe)');
</script>
</body></html>
